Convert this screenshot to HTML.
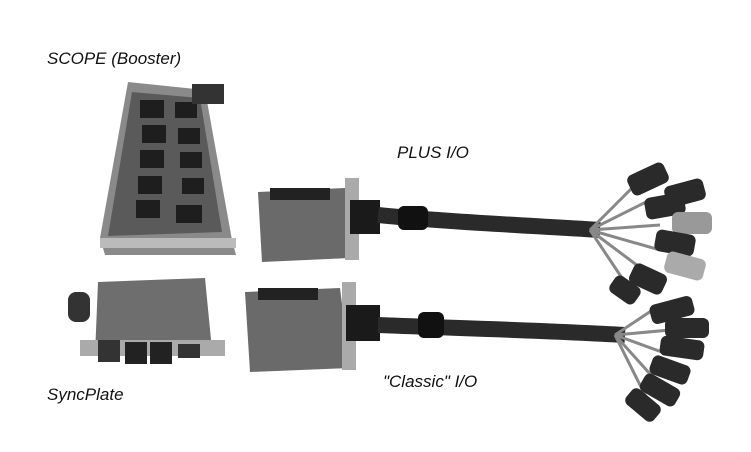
<!DOCTYPE html>
<html><head><meta charset="utf-8"><style>
html,body{margin:0;padding:0;background:#fff;width:751px;height:452px;overflow:hidden}
.t{font-family:"Liberation Sans",sans-serif;font-style:italic;font-size:17px;fill:#111}
</style></head><body>
<svg width="751" height="452" viewBox="0 0 751 452" xmlns="http://www.w3.org/2000/svg">
<!-- SCOPE board -->
<polygon points="128,82 205,90 232,240 236,255 105,255 100,238" fill="#8a8a8a"/>
<polygon points="132,92 200,98 222,232 108,236" fill="#5a5a5a"/>
<g fill="#1e1e1e">
<rect x="140" y="100" width="24" height="18"/><rect x="175" y="102" width="22" height="16"/>
<rect x="142" y="125" width="24" height="18"/><rect x="178" y="128" width="22" height="16"/>
<rect x="140" y="150" width="24" height="18"/><rect x="180" y="152" width="22" height="16"/>
<rect x="138" y="176" width="24" height="18"/><rect x="182" y="178" width="22" height="16"/>
<rect x="136" y="200" width="24" height="18"/><rect x="176" y="205" width="26" height="18"/>
</g>
<rect x="192" y="84" width="32" height="20" fill="#333"/>
<rect x="100" y="238" width="136" height="10" fill="#bbb"/>
<!-- PLUS I/O board -->
<polygon points="258,192 345,188 350,258 262,262" fill="#6a6a6a"/>
<rect x="270" y="188" width="60" height="12" fill="#222"/>
<rect x="345" y="178" width="14" height="82" fill="#aaa"/>
<rect x="350" y="200" width="30" height="34" fill="#1a1a1a"/>
<path d="M378 215 C450 222 520 225 600 230" stroke="#2a2a2a" stroke-width="16" fill="none"/>
<rect x="398" y="206" width="30" height="24" rx="6" fill="#111"/>
<g stroke="#888" stroke-width="3" fill="none">
<path d="M590 230 L640 180"/><path d="M590 230 L650 200"/><path d="M590 230 L660 225"/><path d="M590 230 L660 250"/><path d="M590 230 L650 275"/><path d="M590 230 L630 290"/>
</g>
<g fill="#2a2a2a">
<rect x="628" y="168" width="40" height="22" rx="6" transform="rotate(-25 648 179)"/>
<rect x="665" y="182" width="40" height="22" rx="6" transform="rotate(-15 685 193)"/>
<rect x="645" y="195" width="40" height="22" rx="6" transform="rotate(-10 665 206)"/>
<rect x="672" y="212" width="40" height="22" rx="6" fill="#999"/>
<rect x="655" y="232" width="40" height="22" rx="6" transform="rotate(10 675 243)"/>
<rect x="665" y="255" width="40" height="22" rx="6" fill="#aaa" transform="rotate(15 685 266)"/>
<rect x="630" y="268" width="36" height="22" rx="6" transform="rotate(25 648 279)"/>
<rect x="610" y="280" width="30" height="20" rx="6" transform="rotate(35 625 290)"/>
</g>
<!-- SyncPlate -->
<rect x="68" y="292" width="22" height="30" rx="8" fill="#333"/>
<polygon points="98,282 205,278 212,350 95,355" fill="#6e6e6e"/>
<rect x="80" y="340" width="145" height="16" fill="#aaa"/>
<rect x="98" y="340" width="22" height="22" fill="#333"/><rect x="125" y="342" width="22" height="22" fill="#222"/><rect x="150" y="342" width="22" height="22" fill="#222"/><rect x="178" y="344" width="22" height="14" fill="#333"/>
<!-- Classic I/O board -->
<polygon points="245,292 340,288 350,368 250,372" fill="#6a6a6a"/>
<rect x="258" y="288" width="60" height="12" fill="#222"/>
<rect x="342" y="282" width="14" height="88" fill="#aaa"/>
<rect x="346" y="305" width="34" height="36" fill="#1a1a1a"/>
<path d="M378 325 C450 328 540 330 625 335" stroke="#2a2a2a" stroke-width="16" fill="none"/>
<rect x="418" y="312" width="26" height="26" rx="6" fill="#111"/>
<g stroke="#888" stroke-width="3" fill="none">
<path d="M615 335 L660 305"/><path d="M615 335 L670 330"/><path d="M615 335 L670 355"/><path d="M615 335 L660 385"/><path d="M615 335 L650 405"/>
</g>
<g fill="#2a2a2a">
<rect x="650" y="300" width="44" height="20" rx="6" transform="rotate(-15 672 310)"/>
<rect x="665" y="318" width="44" height="20" rx="6"/>
<rect x="660" y="338" width="44" height="20" rx="6" transform="rotate(8 682 348)"/>
<rect x="650" y="360" width="40" height="20" rx="6" transform="rotate(20 670 370)"/>
<rect x="640" y="380" width="40" height="20" rx="6" transform="rotate(30 660 390)"/>
<rect x="625" y="395" width="36" height="20" rx="6" transform="rotate(40 643 405)"/>
</g>
<text class="t" x="47" y="64">SCOPE (Booster)</text>
<text class="t" x="397" y="158">PLUS I/O</text>
<text class="t" x="47" y="400">SyncPlate</text>
<text class="t" x="383" y="387">"Classic" I/O</text>
</svg>
</body></html>
